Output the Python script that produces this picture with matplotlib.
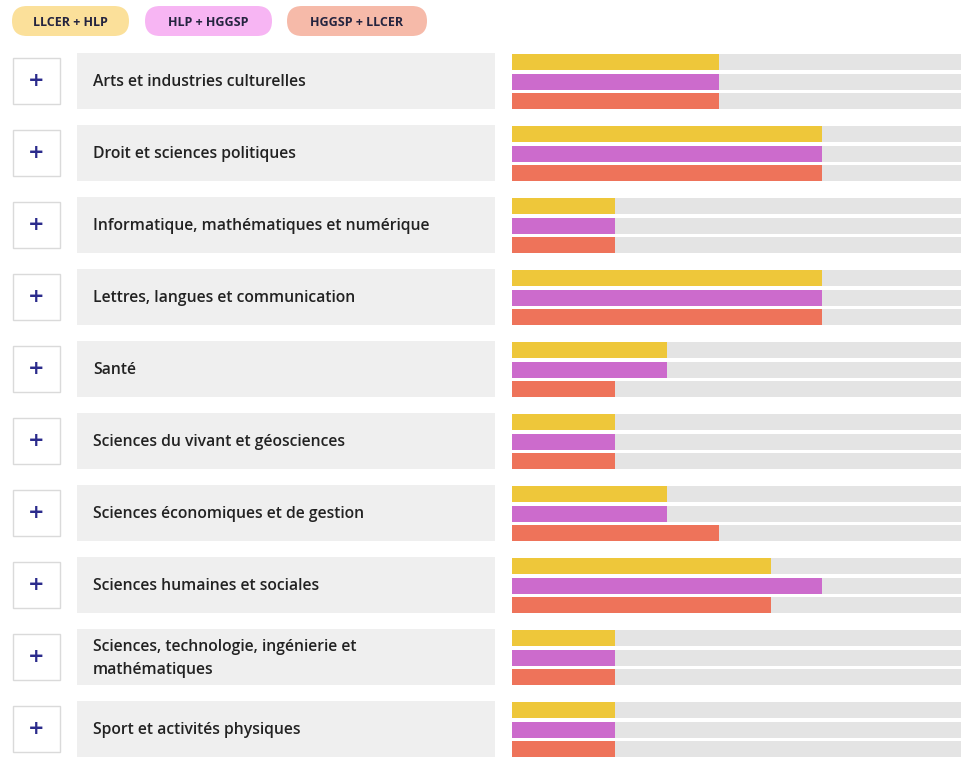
import matplotlib.pyplot as plt
from matplotlib.patches import Rectangle, FancyBboxPatch

# Data
categories = [
    "Arts et industries culturelles",
    "Droit et sciences politiques",
    "Informatique, mathématiques et numérique",
    "Lettres, langues et communication",
    "Santé",
    "Sciences du vivant et géosciences",
    "Sciences économiques et de gestion",
    "Sciences humaines et sociales",
    "Sciences, technologie, ingénierie et\nmathématiques",
    "Sport et activités physiques",
]
series_names = ["LLCER + HLP", "HLP + HGGSP", "HGGSP + LLCER"]
llcer_hlp = [4, 6, 2, 6, 3, 2, 3, 5, 2, 2]
hlp_hggsp = [4, 6, 2, 6, 3, 2, 3, 6, 2, 2]
hggsp_llcer = [4, 6, 2, 6, 2, 2, 4, 5, 2, 2]
series = [llcer_hlp, hlp_hggsp, hggsp_llcer]

bar_colors = ["#EEC73A", "#CC6BCC", "#EE735A"]
pill_colors = ["#FBE09A", "#F7B5F3", "#F6BAA9"]
track_color = "#E4E4E4"
TRACK_MAX = 8.68

W, H = 961, 763
fig = plt.figure(figsize=(W / 100, H / 100), dpi=100)
fig.patch.set_facecolor("white")

# background axes in pixel units for legend and left column
bg = fig.add_axes([0, 0, 1, 1])
bg.set_xlim(0, W)
bg.set_ylim(H, 0)
bg.axis("off")

# legend pills
pills = [(12, 117), (145, 127), (287, 140)]
for (px, pw), name, col in zip(pills, series_names, pill_colors):
    bg.add_patch(FancyBboxPatch((px, 6), pw, 30,
                                boxstyle="round,pad=0,rounding_size=15",
                                fc=col, ec="none"))
    bg.text(px + pw / 2, 22, name, ha="center", va="center",
            fontsize=9, fontweight="bold", family="Open Sans", color="#24243f")

ROW_TOP = 53
ROW_PITCH = 72
ROW_H = 56

for i, cat in enumerate(categories):
    top = ROW_TOP + i * ROW_PITCH
    # plus box
    bg.add_patch(Rectangle((13, top + 5), 47, 46, fc="white", ec="#DADADA", lw=1))
    bg.text(36.5, top + 27.5, "+", ha="center", va="center", fontsize=14,
            fontweight="bold", color="#2B2B8C", family="DejaVu Sans")
    # label box
    bg.add_patch(Rectangle((77, top), 418, ROW_H, fc="#EFEFEF", ec="none"))
    bg.text(93, top + 29.5, cat, ha="left", va="center", fontsize=11.3,
            family="Open Sans", fontweight="semibold", color="#222222",
            linespacing=1.6)

# bar axes
x0 = 512
top0 = ROW_TOP
bottom = ROW_TOP + 9 * ROW_PITCH + ROW_H
ax = fig.add_axes([x0 / W, 1 - bottom / H, (W - x0) / W, (bottom - top0) / H])
ax.set_xlim(0, TRACK_MAX)
ax.set_ylim(bottom - top0, 0)
ax.axis("off")

offsets = [8.5, 28.5, 48]
bar_h = 16
for i in range(len(categories)):
    base = i * ROW_PITCH
    for k, vals in enumerate(series):
        y = base + offsets[k]
        ax.barh(y, TRACK_MAX, height=bar_h, color=track_color, edgecolor="none")
        ax.barh(y, vals[i], height=bar_h, color=bar_colors[k], edgecolor="none")

fig.savefig("out.png", dpi=100, facecolor="white")
